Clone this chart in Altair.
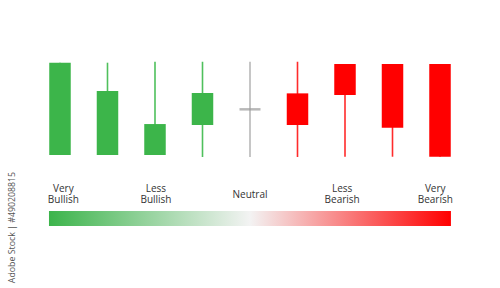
import altair as alt
import pandas as pd

# ---- data ----
positions = [1, 2, 3, 4, 5, 6, 7, 8, 9]
opens = [2.1, 2.1, 2.1, 33.7, 50.2, 67.0, 97.9, 97.9, 97.9]
closes = [99.3, 69.5, 34.7, 67.4, 50.2, 33.7, 65.3, 30.8, 0.3]
highs = [99.3, 99.3, 100.3, 100.3, 100.3, 100.3, 97.9, 97.9, 97.9]
lows = [2.1, 2.1, 2.1, 0.0, 0.0, 0.0, 0.3, 0.3, 0.3]

label_texts = ["Very\nBullish", "Less\nBullish", "Neutral", "Less\nBearish", "Very\nBearish"]
label_pos = [1.07, 3.02, 5.0, 6.94, 8.9]
label_y = [-33.4, -33.4, -39.5, -33.4, -33.4]

scale_start = [0.768]
scale_end = [9.23]
scale_top = [-56.8]
scale_bottom = [-72.6]

watermark_text = ["Adobe Stock | #490208815"]
watermark_x = [-0.02]
watermark_y = [-74.2]

# ---- tables ----
dirs = ["up" if c > o else ("down" if c < o else "flat") for o, c in zip(opens, closes)]
df = pd.DataFrame({"pos": positions, "open": opens, "close": closes,
                   "high": highs, "low": lows, "dir": dirs})
labels = pd.DataFrame({"pos": label_pos, "y": label_y, "text": label_texts})
bar = pd.DataFrame({"x0": scale_start, "x1": scale_end, "y0": scale_top, "y1": scale_bottom})
wm = pd.DataFrame({"x": watermark_x, "y": watermark_y, "text": watermark_text})

xs = alt.Scale(domain=[-0.263, 10.263], nice=False, zero=False, padding=0)
ys = alt.Scale(domain=[-137.9, 165.3], nice=False, zero=False, padding=0)

color = alt.Color("dir:N", legend=None,
                  scale=alt.Scale(domain=["up", "down", "flat"],
                                  range=["#4fc05c", "#ff2b2b", "#b8b8b8"]))
body_color = alt.Color("dir:N", legend=None,
                       scale=alt.Scale(domain=["up", "down", "flat"],
                                       range=["#3cb54a", "#ff0000", "#999999"]))

base = alt.Chart(df)

wicks = base.mark_rule(strokeWidth=1.6).encode(
    x=alt.X("pos:Q", scale=xs, axis=None),
    y=alt.Y("low:Q", scale=ys, axis=None),
    y2="high:Q",
    color=color,
)

bodies = base.transform_filter("datum.dir != 'flat'").mark_bar(size=21.5).encode(
    x=alt.X("pos:Q", scale=xs, axis=None),
    y=alt.Y("open:Q", scale=ys, axis=None),
    y2="close:Q",
    color=body_color,
)

flat = base.transform_filter("datum.dir == 'flat'").mark_tick(
    orient="horizontal", size=21, thickness=2.5, color="#9a9a9a"
).encode(
    x=alt.X("pos:Q", scale=xs, axis=None),
    y=alt.Y("open:Q", scale=ys, axis=None),
)

grad = alt.Chart(bar).mark_rect(
    color=alt.Gradient(
        gradient="linear",
        stops=[alt.GradientStop(color="#3cb44b", offset=0),
               alt.GradientStop(color="#f3f3f3", offset=0.5),
               alt.GradientStop(color="#ff0000", offset=1)],
        x1=0, x2=1, y1=0, y2=0,
    )
).encode(
    x=alt.X("x0:Q", scale=xs, axis=None),
    x2="x1:Q",
    y=alt.Y("y0:Q", scale=ys, axis=None),
    y2="y1:Q",
)

text = alt.Chart(labels).mark_text(
    lineBreak="\n", fontSize=10, lineHeight=11, font="Open Sans",
    color="#333333", align="center", baseline="middle"
).encode(
    x=alt.X("pos:Q", scale=xs, axis=None),
    y=alt.Y("y:Q", scale=ys, axis=None),
    text="text:N",
)

water = alt.Chart(wm).mark_text(
    angle=270, fontSize=8.8, font="Open Sans", color="#555555",
    align="center", baseline="middle"
).encode(
    x=alt.X("x:Q", scale=xs, axis=None),
    y=alt.Y("y:Q", scale=ys, axis=None),
    text="text:N",
)

chart = alt.layer(wicks, bodies, flat, grad, text, water).resolve_scale(
    color="independent"
).properties(
    width=500, height=288, padding=0,
    autosize=alt.AutoSizeParams(type="none"),
    background="white",
).configure_view(stroke=None)

chart.save("out.html", embed_options={"renderer": "svg", "actions": False})
